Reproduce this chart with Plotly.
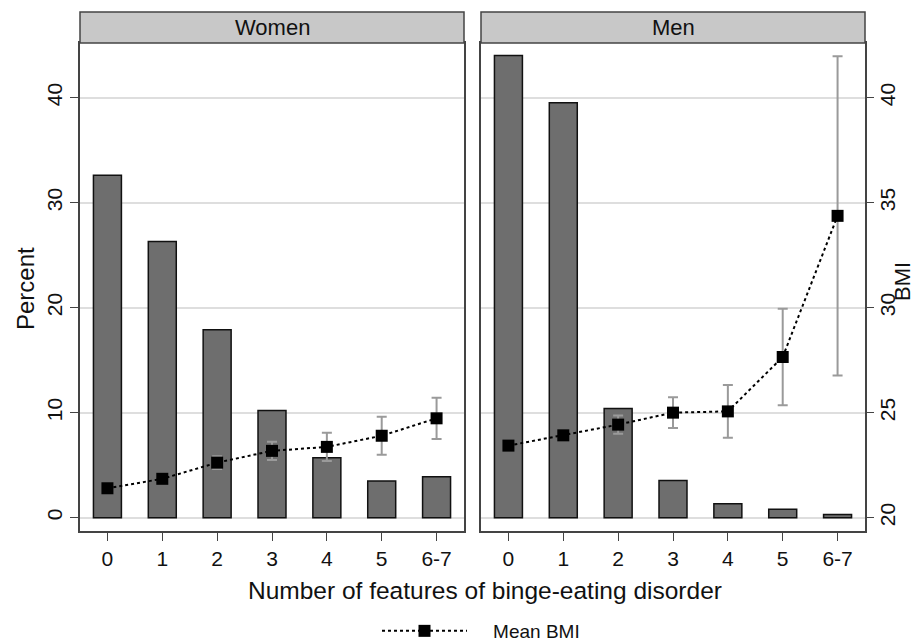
import plotly.graph_objects as go

categories = ["0", "1", "2", "3", "4", "5", "6-7"]

women_percent = [32.6, 26.3, 17.9, 10.2, 5.7, 3.5, 3.9]
women_bmi = [21.4, 21.85, 22.62, 23.18, 23.37, 23.9, 24.73]
women_bmi_err = [0.12, 0.15, 0.3, 0.43, 0.67, 0.9, 0.98]

men_percent = [44.0, 39.5, 10.4, 3.55, 1.33, 0.8, 0.3]
men_bmi = [23.43, 23.92, 24.43, 25.0, 25.06, 27.65, 34.37]
men_bmi_err = [0.15, 0.2, 0.44, 0.73, 1.26, 2.3, 7.6]

panel_titles = ["Women", "Men"]

W, H = 917, 642
ml, mr, mt, mb = 80, 52, 43, 111
pw = W - ml - mr
ph = H - mt - mb

def px_x(x):
    return (x - ml) / pw

def px_y(y):
    return (H - mb - y) / ph

FONT = "Liberation Sans, Arial, sans-serif"
BAR_FILL = "#6e6e6e"
ERR_COL = "#9a9a9a"
GRID = "#dedede"
AXC = "#444444"
TXT = "#111111"

pct_range = [-1.27, 45.2]
bmi_range = [20 + pct_range[0] / 2, 20 + pct_range[1] / 2]

fig = go.Figure()

# Women panel
fig.add_trace(go.Bar(x=categories, y=women_percent, xaxis="x", yaxis="y",
                     marker=dict(color=BAR_FILL, line=dict(color="#111111", width=1.5)),
                     width=0.51, showlegend=False))
fig.add_trace(go.Scatter(x=categories, y=women_bmi, xaxis="x", yaxis="y2",
                         mode="lines+markers", name="\u00a0\u00a0\u00a0\u00a0Mean BMI",
                         line=dict(color="black", width=2, dash="dot"),
                         marker=dict(symbol="square", size=12, color="black"),
                         error_y=dict(type="data", array=women_bmi_err, color=ERR_COL,
                                      thickness=2, width=5),
                         showlegend=True))
# Men panel
fig.add_trace(go.Bar(x=categories, y=men_percent, xaxis="x2", yaxis="y3",
                     marker=dict(color=BAR_FILL, line=dict(color="#111111", width=1.5)),
                     width=0.51, showlegend=False))
fig.add_trace(go.Scatter(x=categories, y=men_bmi, xaxis="x2", yaxis="y4",
                         mode="lines+markers", name="Mean BMI",
                         line=dict(color="black", width=2, dash="dot"),
                         marker=dict(symbol="square", size=12, color="black"),
                         error_y=dict(type="data", array=men_bmi_err, color=ERR_COL,
                                      thickness=2, width=5),
                         showlegend=False))

left_dom = [0, px_x(464)]
right_dom = [px_x(481), 1]

xcommon = dict(type="category", range=[-0.5, 6.5], showline=True, linecolor=AXC,
               linewidth=1.5, mirror=True, ticks="outside", ticklen=8,
               tickcolor=AXC, tickfont=dict(size=21, color=TXT),
               showgrid=False, zeroline=False)

fig.update_layout(
    width=W, height=H,
    margin=dict(l=ml, r=mr, t=mt, b=mb, autoexpand=False),
    paper_bgcolor="white", plot_bgcolor="white",
    font=dict(family=FONT, color=TXT),
    bargap=0.49,
    xaxis=dict(domain=left_dom, anchor="y", **xcommon),
    xaxis2=dict(domain=right_dom, anchor="y3", **xcommon),
    yaxis=dict(domain=[0, 1], anchor="x", range=pct_range, tickvals=[0, 10, 20, 30, 40],
               tickangle=-90, ticks="outside", ticklen=8, tickcolor=AXC,
               tickfont=dict(size=21, color=TXT),
               showline=True, linecolor=AXC, linewidth=1.5, mirror=True,
               showgrid=True, gridcolor=GRID, gridwidth=1.5, zeroline=False),
    yaxis2=dict(overlaying="y", anchor="x", range=bmi_range, visible=False),
    yaxis3=dict(domain=[0, 1], anchor="x2", range=pct_range, tickvals=[0, 10, 20, 30, 40],
                showticklabels=False, ticks="",
                showline=True, linecolor=AXC, linewidth=1.5, mirror=True,
                showgrid=True, gridcolor=GRID, gridwidth=1.5, zeroline=False),
    yaxis4=dict(overlaying="y3", anchor="x2", side="right", range=bmi_range,
                tickvals=[20, 25, 30, 35, 40], tickangle=-90, ticks="outside",
                ticklen=8, tickcolor=AXC, tickfont=dict(size=21, color=TXT),
                ticklabelstandoff=-4,
                showline=False, showgrid=False, zeroline=False),
    legend=dict(orientation="h", x=px_x(481), xanchor="center", y=px_y(631),
                yanchor="middle", font=dict(size=19, color=TXT),
                itemwidth=85, bgcolor="rgba(0,0,0,0)"),
)

shapes = []
annotations = []
for dom, title in zip([left_dom, right_dom], panel_titles):
    shapes.append(dict(type="rect", xref="paper", yref="paper",
                       x0=dom[0], x1=dom[1], y0=1, y1=px_y(12),
                       fillcolor="#c8c8c8", line=dict(color=AXC, width=1.5), layer="above"))
    annotations.append(dict(text=title, xref="paper", yref="paper",
                            x=(dom[0] + dom[1]) / 2, y=px_y(27.5), xanchor="center",
                            yanchor="middle", showarrow=False,
                            font=dict(size=22, color=TXT)))

annotations.append(dict(text="Number of features of binge-eating disorder", xref="paper",
                        yref="paper", x=px_x(485), y=px_y(590), xanchor="center",
                        yanchor="middle", showarrow=False, font=dict(size=24.5, color=TXT)))
annotations.append(dict(text="Percent", xref="paper", yref="paper", x=px_x(25),
                        y=px_y(289), xanchor="center", yanchor="middle", textangle=-90,
                        showarrow=False, font=dict(size=24, color=TXT)))
annotations.append(dict(text="BMI", xref="paper", yref="paper", x=px_x(902),
                        y=px_y(282), xanchor="center", yanchor="middle", textangle=-90,
                        showarrow=False, borderpad=0, font=dict(size=22, color=TXT)))

fig.update_layout(shapes=shapes, annotations=annotations)

fig.write_html("out.html")
